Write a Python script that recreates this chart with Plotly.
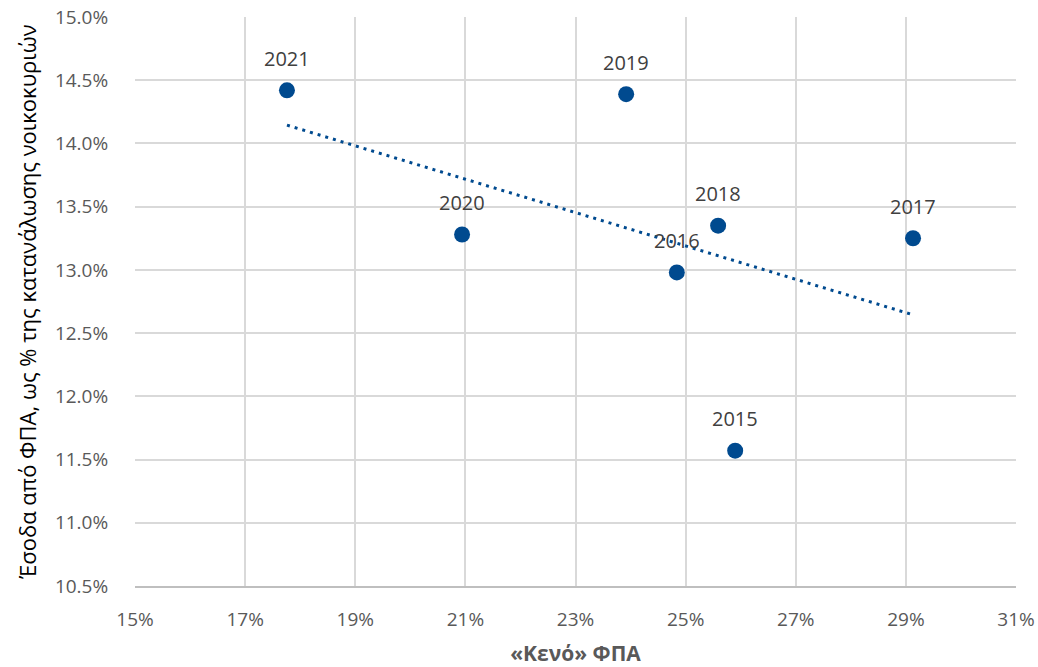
import numpy as np
import plotly.graph_objects as go

years = ["2015", "2016", "2017", "2018", "2019", "2020", "2021"]
vat_gap = [25.90, 24.84, 29.13, 25.59, 23.92, 20.94, 17.76]
vat_revenue = [11.57, 12.98, 13.25, 13.35, 14.39, 13.28, 14.42]

x_ticks = [15, 17, 19, 21, 23, 25, 27, 29, 31]
y_ticks = [10.5, 11.0, 11.5, 12.0, 12.5, 13.0, 13.5, 14.0, 14.5, 15.0]

FONT = "Open Sans"
BLUE = "#004a8f"

# linear trend fitted on the points, drawn between min and max x
slope, intercept = np.polyfit(vat_gap, vat_revenue, 1)
tx = np.array([min(vat_gap), max(vat_gap)])
ty = slope * tx + intercept

fig = go.Figure()
fig.add_trace(go.Scatter(
    x=tx, y=ty, mode="lines",
    line=dict(color=BLUE, width=3, dash="3px,5px"),
    hoverinfo="skip",
))
fig.add_trace(go.Scatter(
    x=vat_gap, y=vat_revenue, mode="markers",
    marker=dict(color=BLUE, size=16),
))

for yr, xv, yv in zip(years, vat_gap, vat_revenue):
    fig.add_annotation(x=xv, y=yv, text=yr, showarrow=False, yshift=32,
                       font=dict(family=FONT, size=20, color="#404040"))

fig.update_layout(
    width=1038, height=667,
    margin=dict(l=135, r=22, t=17, b=81),
    plot_bgcolor="white", paper_bgcolor="white",
    showlegend=False,
    font=dict(family=FONT, size=19, color="#595959"),
)
fig.update_xaxes(
    range=[15, 31], tickvals=x_ticks, ticktext=[f"{v}%" for v in x_ticks],
    showgrid=True, gridcolor="#d9d9d9", gridwidth=1.5,
    showline=True, linecolor="#bfbfbf", linewidth=1.5,
    zeroline=False, ticks="outside", ticklen=15, tickcolor="rgba(0,0,0,0)",
    automargin=False, ticklabeloverflow="allow",
    title=dict(text="<b>«Κενό» ΦΠΑ</b>", font=dict(family=FONT, size=21, color="#595959"), standoff=20),
)
fig.update_yaxes(
    range=[10.5, 15.0], tickvals=y_ticks, ticktext=[f"{v:.1f}%" for v in y_ticks],
    showgrid=True, gridcolor="#d9d9d9", gridwidth=1.5,
    zeroline=False, ticks="outside", ticklen=22, tickcolor="rgba(0,0,0,0)",
    automargin=False, ticklabeloverflow="allow",
    title=dict(text="Έσοδα από ΦΠΑ, ως % της κατανάλωσης νοικοκυριών", font=dict(family=FONT, size=22, color="black"), standoff=12),
)

# drop the default page margin so the figure fills the window exactly
fig.write_html(
    "out.html",
    config={"displayModeBar": False},
    post_script="document.body.style.margin='0';document.body.style.overflow='hidden';",
)
